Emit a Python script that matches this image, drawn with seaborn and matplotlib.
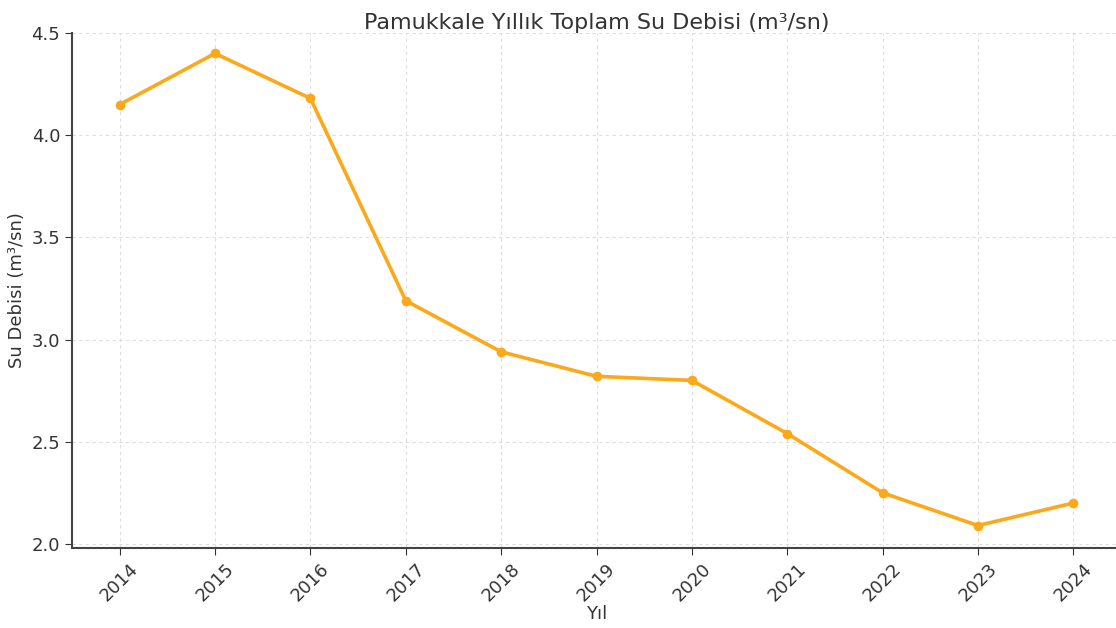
import pandas as pd
import matplotlib.pyplot as plt
import seaborn as sns

# Yearly water flow values
years = [2014, 2015, 2016, 2017, 2018, 2019, 2020, 2021, 2022, 2023, 2024]
flow = [4.15, 4.40, 4.18, 3.19, 2.94, 2.82, 2.80, 2.54, 2.25, 2.09, 2.20]

df = pd.DataFrame({"Yil": years, "Debi": flow})

sns.set_style("ticks")
plt.rcParams['font.family'] = ['DejaVu Sans']

fig = plt.figure(figsize=(11.16, 6.28), dpi=100)
ax = fig.add_axes([0.0645, 0.1274, 0.94, 0.8201])

sns.lineplot(data=df, x="Yil", y="Debi", color="#FBA81A", linewidth=2.6,
             marker="o", markersize=7, markeredgewidth=0, ax=ax)

ax.set_xlim(2013.5, 2024.5)
ax.set_ylim(1.98, 4.5)
ax.set_xticks(years)
ax.set_yticks([2.0, 2.5, 3.0, 3.5, 4.0, 4.5])
ax.tick_params(axis="x", rotation=45, labelsize=13, colors="#333333", length=5)
ax.tick_params(axis="y", labelsize=13, colors="#333333", length=5)
ax.grid(True, linestyle=(0, (3, 3)), color="#dedede", linewidth=0.8)
sns.despine(ax=ax)
for s in ["left", "bottom"]:
    ax.spines[s].set_color("#444444")
    ax.spines[s].set_linewidth(1.5)

ax.set_title("Pamukkale Yıllık Toplam Su Debisi (m³/sn)", fontsize=16, color="#333333", pad=3)
ax.set_xlabel("Yıl", fontsize=13, color="#333333", labelpad=0)
ax.set_ylabel("Su Debisi (m³/sn)", fontsize=13, color="#333333")

fig.savefig("out.png", dpi=100)
